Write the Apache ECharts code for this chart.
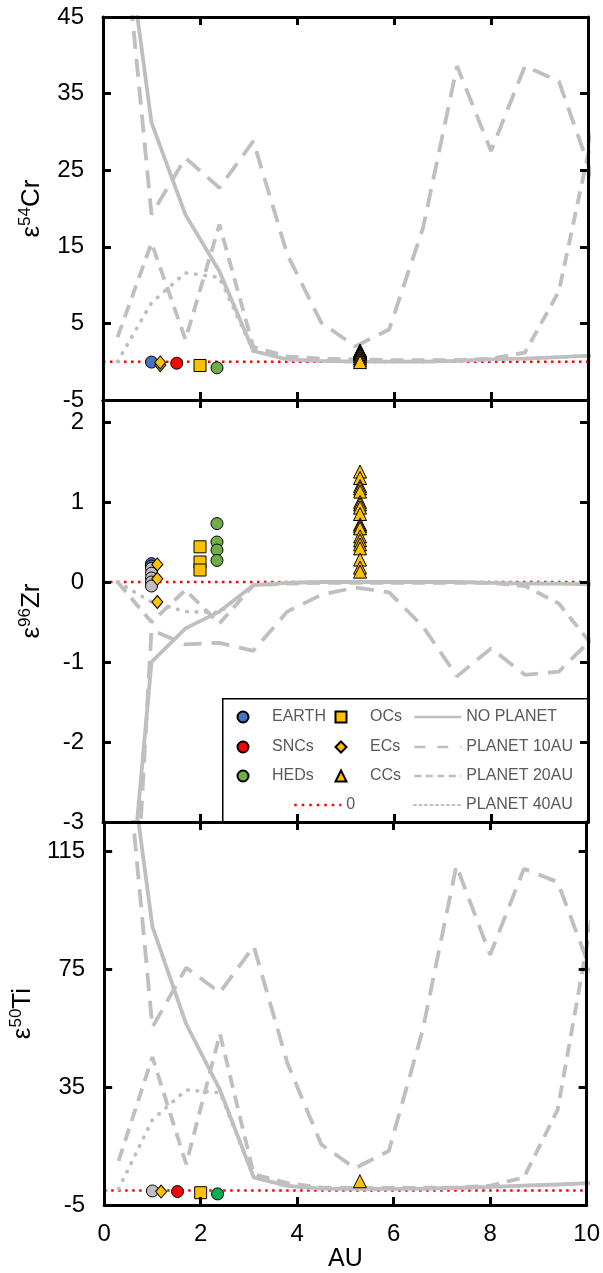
<!DOCTYPE html>
<html>
<head>
<meta charset="utf-8">
<script src="https://cdn.jsdelivr.net/npm/echarts@6/dist/echarts.min.js"></script>
<style>
html, body { margin: 0; padding: 0; background: #fff; }
#main { width: 603px; height: 1273px; }
</style>
</head>
<body>
<div id="main"></div>
<script>
// model grid (AU)
var au = [0.3, 1.0, 1.7, 2.4, 3.1, 3.8, 4.5, 5.2, 5.9, 6.6, 7.3, 8.0, 8.7, 9.4, 10.1];
var zeroAU = [0, 10];

// e54Cr models
var crNoPlanet = [64.5, 31.2, 19.2, 11.8, 1.4, 0.3, 0.1, 0.0, 0.0, 0.0, 0.1, 0.3, 0.4, 0.6, 0.8];
var crPlanet10 = [65, 19.2, 26.6, 22.7, 28.8, 14.0, 5.1, 2.0, 4.2, 17.5, 38.6, 27.5, 38.6, 36.6, 24.0];
var crPlanet20 = [3.2, 15.5, 2.9, 17.9, 1.9, 0.7, 0.4, 0.3, 0.2, 0.2, 0.2, 0.4, 1.2, 9.2, 30];
var crPlanet40 = [0, 7.7, 11.6, 11.0, 1.4, 0.3, 0.1, 0.0, 0.0, 0.0, 0.1, 0.3, 0.4, 0.6, 0.8];

// e96Zr models
var zrNoPlanet = [-5.7, -1.0, -0.58, -0.37, -0.04, -0.01, 0, 0, 0, 0, 0, -0.01, -0.02, -0.02, -0.03];
var zrPlanet10 = [-8.2, -0.6, -0.78, -0.76, -0.86, -0.37, -0.16, -0.07, -0.13, -0.56, -1.18, -0.83, -1.16, -1.12, -0.7];
var zrPlanet20 = [0, -0.5, -0.1, -0.52, -0.04, -0.02, -0.01, -0.01, -0.01, -0.01, -0.01, -0.01, -0.05, -0.27, -0.8];
var zrPlanet40 = [0, -0.25, -0.37, -0.38, -0.04, -0.01, 0, 0, 0, 0, 0, -0.01, -0.02, -0.02, -0.03];

// e50Ti models
var tiNoPlanet = [176, 89.6, 56.5, 34.1, 4.4, 1.5, 0.6, 0.5, 0.5, 0.6, 0.8, 1.2, 1.6, 2.0, 2.5];
var tiPlanet10 = [178, 55.4, 75.6, 67.2, 82.9, 43.1, 15.6, 7.5, 13.4, 54.3, 110.3, 80, 109.2, 104.7, 74];
var tiPlanet20 = [10, 45.3, 8.9, 53.2, 5.5, 2.5, 1.0, 0.8, 0.8, 0.9, 1.0, 1.6, 4.4, 27.4, 92];
var tiPlanet40 = [0.5, 24, 34.1, 33.2, 4.4, 1.5, 0.6, 0.5, 0.5, 0.6, 0.8, 1.2, 1.6, 2.0, 2.5];

// meteorite groups: heliocentric position (AU)
var earthAU = 1.0, ecAU = 1.18, ecAUzr = 1.12, sncAU = 1.52, ocAU = 2.0, hedAU = 2.35, ccAU = 5.3;

// measured values
var crEarth = [-0.05];
var crEC = [-0.45, -0.1];
var crSNC = [-0.2];
var crOC = [-0.5];
var crHED = [-0.8];
var crCC = [1.45, 1.38, 1.3, 1.22, 1.15, 1.08, 1.0, 0.9, 0.7, 0.45, 0.2, -0.05];

var zrEarth = [0.23, 0.2];
var zrGray = [0.17, 0.11, 0.05, 0.0, -0.05];
var zrEC = [0.22, 0.04, -0.25];
var zrOC = [0.44, 0.25, 0.15];
var zrHED = [0.73, 0.5, 0.4, 0.27];
var zrCC = [1.38, 1.3, 1.2, 1.17, 1.13, 1.0, 0.97, 0.93, 0.85, 0.72, 0.7, 0.67, 0.57, 0.52, 0.47, 0.42, 0.28, 0.18, 0.13];

var tiEarth = [-0.2];
var tiEC = [-0.4];
var tiSNC = [-0.4];
var tiOC = [-0.8];
var tiHED = [-1.2];
var tiCC = [3.1];

var yMin = [-5, -3, -5];
var yMax = [45, 2.275, 125.1];
var yStep = [10, 1, 40];
var yIso = ['54', '96', '50'];
var yElem = ['Cr', 'Zr', 'Ti'];

var FONT = '"Liberation Sans", Arial, sans-serif';
var GRAY = '#BFBFBF';
var YELLOW = '#FFC000';

var chart = echarts.init(document.getElementById('main'));

var grids = [
  { left: 103, right: 15, top: 17, height: 383 },
  { left: 103, right: 15, top: 400, height: 422 },
  { left: 103, right: 15, top: 822, height: 387 }
];

var xAxes = [], yAxes = [];
var frameLine = { onZero: false, lineStyle: { color: '#000', width: 3 } };
var frameTick = { inside: true, length: 8, lineStyle: { color: '#000', width: 3 } };

for (var g = 0; g < 3; g++) {
  xAxes.push({
    gridIndex: g, type: 'value', position: 'bottom', min: 0, max: 10, interval: 2, z: 10,
    axisLine: frameLine, axisTick: frameTick, splitLine: { show: false },
    axisLabel: { show: g === 2, fontSize: 24, color: '#000', fontFamily: FONT, margin: 17 },
    name: g === 2 ? 'AU' : '', nameLocation: 'middle', nameGap: 39,
    nameTextStyle: { fontSize: 25, color: '#000', fontFamily: FONT }
  });
  xAxes.push({
    gridIndex: g, type: 'value', position: 'top', min: 0, max: 10, interval: 2, z: 10,
    axisLine: frameLine, axisTick: frameTick, splitLine: { show: false },
    axisLabel: { show: false }
  });
  yAxes.push({
    gridIndex: g, type: 'value', position: 'left', min: yMin[g], max: yMax[g], interval: yStep[g], z: 10,
    axisLine: frameLine, axisTick: frameTick, splitLine: { show: false },
    axisLabel: { fontSize: 24, color: '#000', fontFamily: FONT, margin: 19, showMaxLabel: g === 0 },
    name: '{e|ε}{s|' + yIso[g] + '}{e|' + yElem[g] + '}',
    nameLocation: 'middle', nameRotate: 90, nameGap: 56,
    nameTextStyle: {
      rich: {
        e: { fontSize: 26, fontFamily: FONT, color: '#000', lineHeight: 30 },
        s: { fontSize: 17, fontFamily: FONT, color: '#000', lineHeight: 17, verticalAlign: 'top' }
      }
    }
  });
  yAxes.push({
    gridIndex: g, type: 'value', position: 'right', min: yMin[g], max: yMax[g], interval: yStep[g], z: 10,
    axisLine: frameLine, axisTick: frameTick, splitLine: { show: false },
    axisLabel: { show: false }
  });
}

var styleNoPlanet = { color: GRAY, width: 3.8, type: 'solid' };
var style10 = { color: GRAY, width: 3.8, type: [18, 10] };
var style20 = { color: GRAY, width: 3.8, type: [13, 8] };
var style40 = { color: GRAY, width: 3.8, type: [0.5, 9], cap: 'round' };
var styleZero = { color: '#FF0000', width: 2.5, type: [2.5, 4.5] };

function pairs(xs, ys) {
  return ys.map(function (y, i) { return [xs[i], y]; });
}
function atX(x, ys) {
  return ys.map(function (y) { return [x, y]; });
}
function lineSeries(name, g, xs, ys, style) {
  return {
    type: 'line', name: name, xAxisIndex: g * 2, yAxisIndex: g * 2,
    data: pairs(xs, ys), symbol: 'none', lineStyle: style, silent: true, z: 2,
    itemStyle: { color: style.color }
  };
}
function dots(name, g, x, ys, symbol, size, color) {
  return {
    type: 'scatter', name: name, xAxisIndex: g * 2, yAxisIndex: g * 2,
    data: atX(x, ys), symbol: symbol, symbolSize: size, silent: true, z: 4,
    itemStyle: { color: color, borderColor: '#000', borderWidth: 1, opacity: 1 }
  };
}

var models = [
  [crNoPlanet, crPlanet10, crPlanet20, crPlanet40],
  [zrNoPlanet, zrPlanet10, zrPlanet20, zrPlanet40],
  [tiNoPlanet, tiPlanet10, tiPlanet20, tiPlanet40]
];

var series = [];
for (var p = 0; p < 3; p++) {
  series.push(lineSeries('0', p, zeroAU, [0, 0], styleZero));
  series.push(lineSeries('PLANET 40AU', p, au, models[p][3], style40));
  series.push(lineSeries('PLANET 20AU', p, au, models[p][2], style20));
  series.push(lineSeries('PLANET 10AU', p, au, models[p][1], style10));
  series.push(lineSeries('NO PLANET', p, au, models[p][0], styleNoPlanet));
}

// panel 1 markers
series.push(dots('EARTH', 0, earthAU, crEarth, 'circle', 12, '#4472C4'));
series.push(dots('SNCs', 0, sncAU, crSNC, 'circle', 12, '#FF0000'));
series.push(dots('HEDs', 0, hedAU, crHED, 'circle', 12, '#70AD47'));
series.push(dots('ECs', 0, ecAU, crEC, 'diamond', [11, 13], YELLOW));
series.push(dots('OCs', 0, ocAU, crOC, 'rect', 12, YELLOW));
series.push(dots('CCs', 0, ccAU, crCC, 'triangle', 13, YELLOW));
// panel 2 markers
series.push(dots('EARTH', 1, earthAU, zrEarth, 'circle', 12, '#4472C4'));
series.push(dots('other', 1, earthAU, zrGray, 'circle', 12, '#BFBFBF'));
series.push(dots('ECs', 1, ecAUzr, zrEC, 'diamond', [11, 13], YELLOW));
series.push(dots('OCs', 1, ocAU, zrOC, 'rect', 12, YELLOW));
series.push(dots('HEDs', 1, hedAU, zrHED, 'circle', 12, '#70AD47'));
series.push(dots('CCs', 1, ccAU, zrCC, 'triangle', 13, YELLOW));
// panel 3 markers
series.push(dots('other', 2, earthAU, tiEarth, 'circle', 12, '#BFBFBF'));
series.push(dots('SNCs', 2, sncAU, tiSNC, 'circle', 12, '#FF0000'));
series.push(dots('HEDs', 2, hedAU, tiHED, 'circle', 12, '#00B050'));
series.push(dots('ECs', 2, ecAU, tiEC, 'diamond', [11, 13], YELLOW));
series.push(dots('OCs', 2, ocAU, tiOC, 'rect', 12, YELLOW));
series.push(dots('CCs', 2, ccAU, tiCC, 'triangle', 13, YELLOW));

// legend: one component per entry so the 3-column table can be placed exactly
var rowY = [717, 747, 776, 805];
var legendText = { fontSize: 16, color: '#595959', fontFamily: FONT, lineHeight: 20 };
function symbolLegend(name, iconX, textX, row) {
  return {
    data: [name], left: iconX - 5.5, top: rowY[row] - 10, padding: 0, z: 20,
    itemWidth: 11, itemHeight: 11, selectedMode: false, symbolKeepAspect: true,
    textStyle: Object.assign({ padding: [0, 0, 0, textX - iconX - 10.5] }, legendText)
  };
}
function lineLegend(name, left, row, lineStyle) {
  return {
    data: [name], left: left, top: rowY[row] - 10, padding: 0, z: 20,
    itemWidth: 47, itemHeight: 11, selectedMode: false,
    itemStyle: { color: 'rgba(0,0,0,0)', borderColor: 'rgba(0,0,0,0)', borderWidth: 0, opacity: 0 },
    lineStyle: lineStyle,
    textStyle: legendText
  };
}
var legends = [
  symbolLegend('EARTH', 242, 271, 0),
  symbolLegend('SNCs', 242, 271, 1),
  symbolLegend('HEDs', 242, 271, 2),
  symbolLegend('OCs', 340, 369, 0),
  symbolLegend('ECs', 340, 369, 1),
  symbolLegend('CCs', 340, 369, 2),
  lineLegend('0', 293, 3, { width: 2.5, type: [2.5, 5] }),
  lineLegend('NO PLANET', 413, 0, { width: 2.5, type: 'solid' }),
  lineLegend('PLANET 10AU', 413, 1, { width: 2.5, type: [11, 12] }),
  lineLegend('PLANET 20AU', 413, 2, { width: 2.5, type: [7, 4.5] }),
  lineLegend('PLANET 40AU', 413, 3, { width: 2, type: [2, 3.5] })
];

chart.setOption({
  animation: false,
  backgroundColor: '#fff',
  grid: grids,
  xAxis: xAxes,
  yAxis: yAxes,
  legend: legends,
  graphic: [{
    type: 'rect', left: 222, top: 698, z: 5, silent: true,
    shape: { width: 366, height: 124 },
    style: { fill: '#fff', stroke: '#000', lineWidth: 1.5 }
  }],
  series: series
});
</script>
</body>
</html>
